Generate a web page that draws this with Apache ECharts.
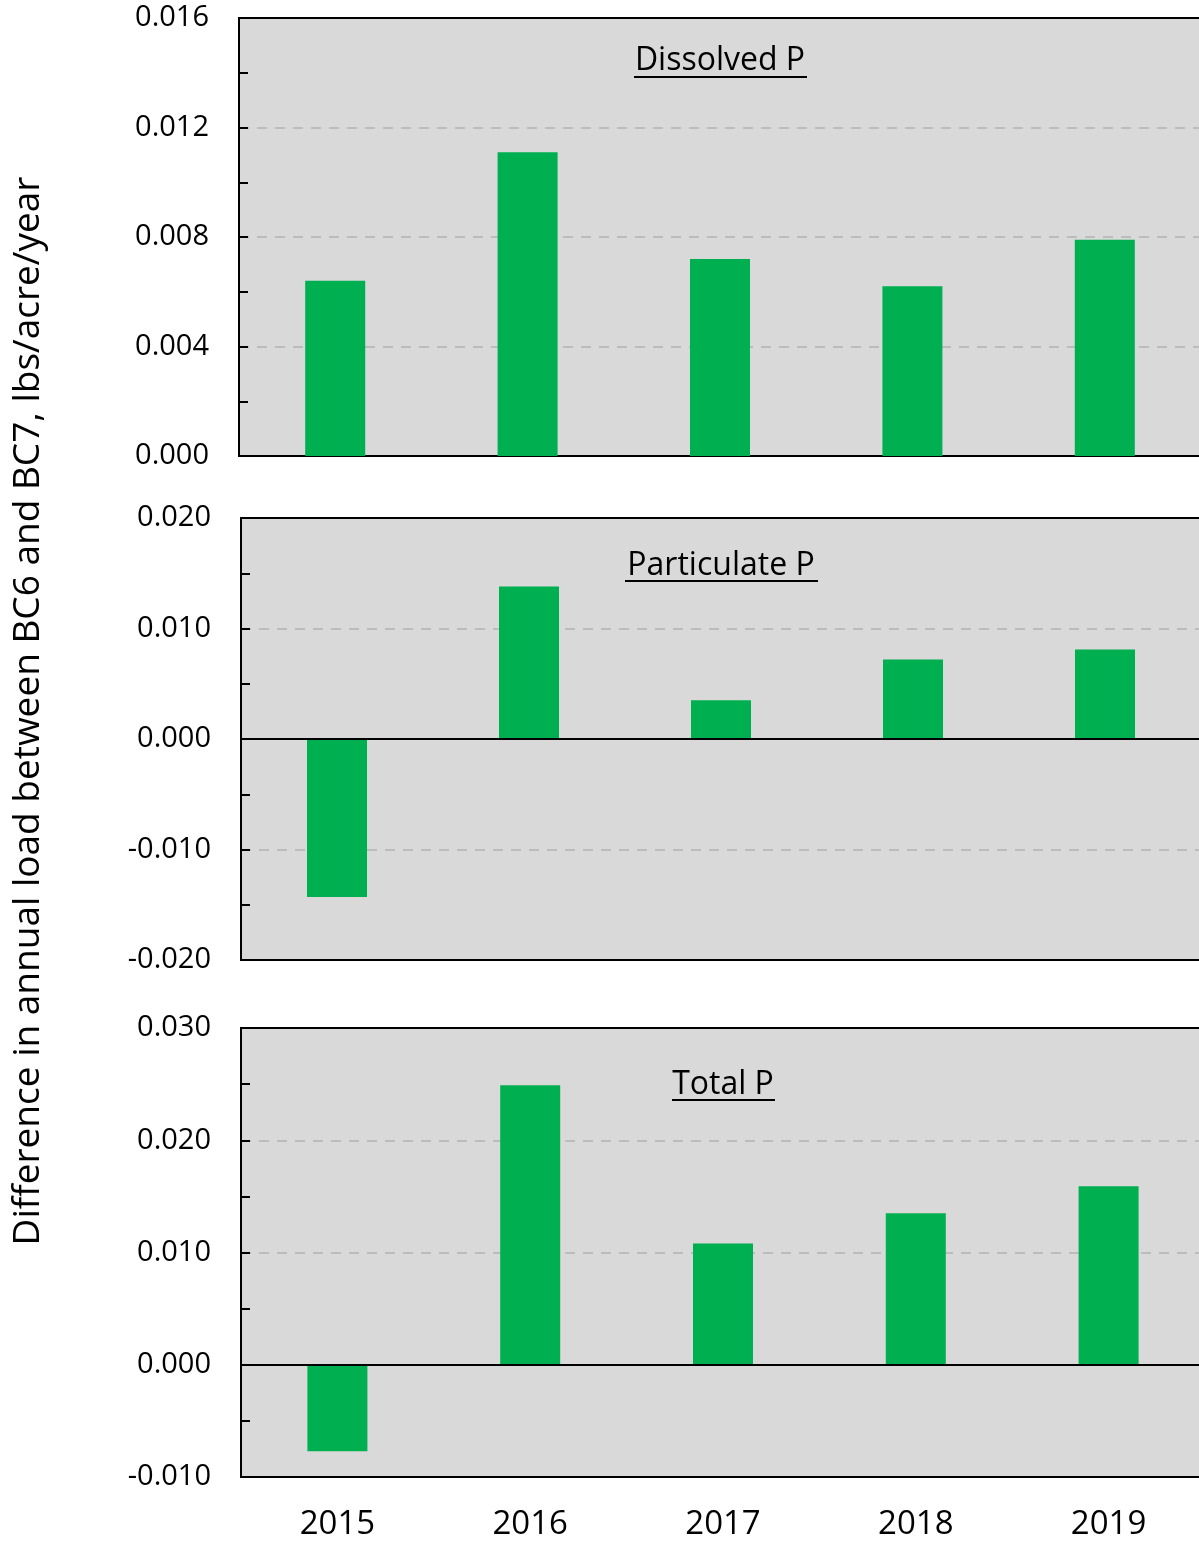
<!DOCTYPE html>
<html>
<head>
<meta charset="utf-8">
<script src="https://cdn.jsdelivr.net/npm/echarts@6/dist/echarts.min.js"></script>
<style>
  html, body { margin: 0; background: #fff; }
  #chart { width: 1199px; height: 1546px; }
</style>
</head>
<body>
<div id="chart"></div>
<script>
// data
const years = ['2015', '2016', '2017', '2018', '2019'];
const dissolvedP = [0.0064, 0.0111, 0.0072, 0.0062, 0.0079];
const particulateP = [-0.0143, 0.0138, 0.0035, 0.0072, 0.0081];
const totalP = [-0.0077, 0.0249, 0.0108, 0.0135, 0.0159];
const panelTitles = ['Dissolved P', 'Particulate P', 'Total P'];
const yMin = [0, -0.02, -0.01];
const yMax = [0.016, 0.02, 0.03];
const yStep = [0.004, 0.01, 0.01];
const yTitle = 'Difference in annual load between BC6 and BC7, lbs/acre/year';

const seriesData = [dissolvedP, particulateP, totalP];

// panel placement (pixels)
const panels = [
  { left: 239, top: 18, height: 438, right: -2, titleX: 720, titleY: 61, ulX1: 634, ulX2: 807, ulY: 77 },
  { left: 241, top: 518, height: 442, right: -2, titleX: 721, titleY: 566, ulX1: 625, ulX2: 818, ulY: 581 },
  { left: 241, top: 1028, height: 449, right: -6, titleX: 723, titleY: 1085, ulX1: 672, ulX2: 775, ulY: 1100 }
];

const font = '"Open Sans", "Noto Sans", sans-serif';
const green = '#00b050';

const chart = echarts.init(document.getElementById('chart'), null, { renderer: 'canvas' });

const grid = panels.map(p => ({
  left: p.left, top: p.top, height: p.height, right: p.right,
  outerBoundsMode: 'none',
  show: true, backgroundColor: '#d9d9d9',
  borderColor: '#000', borderWidth: 2
}));

const xAxis = panels.map((p, i) => ({
  type: 'category', gridIndex: i, data: years,
  axisLine: { show: false, onZero: false },
  axisTick: { show: false },
  axisLabel: {
    show: i === 2, color: '#000', fontSize: 33, fontFamily: font, margin: 31
  }
}));

const yAxis = panels.map((p, i) => ({
  type: 'value', gridIndex: i,
  min: yMin[i], max: yMax[i], interval: yStep[i],
  axisLine: { show: true, lineStyle: { color: '#000', width: 2 } },
  axisTick: { show: true, inside: true, length: 9, lineStyle: { color: '#000', width: 2 } },
  minorTick: { show: true, splitNumber: 2, length: 9, lineStyle: { color: '#000', width: 2 } },
  splitLine: {
    show: true, showMinLine: false, showMaxLine: false,
    lineStyle: { color: '#bcbcbc', width: 2, type: [10, 8] }
  },
  axisLabel: {
    color: '#000', fontSize: 29, fontFamily: font, margin: 30,
    formatter: v => v.toFixed(3)
  }
}));

const series = seriesData.map((d, i) => {
  const s = {
    type: 'bar', xAxisIndex: i, yAxisIndex: i,
    data: d, barWidth: 60,
    itemStyle: { color: green }
  };
  if (yMin[i] < 0) {
    s.markLine = {
      silent: true, symbol: ['none', 'none'],
      label: { show: false },
      lineStyle: { color: '#000', width: 2, type: 'solid' },
      data: [{ yAxis: 0 }]
    };
  }
  return s;
});

const graphic = [];
panels.forEach((p, i) => {
  graphic.push({
    type: 'text', x: p.titleX, y: p.titleY,
    style: {
      text: panelTitles[i], fill: '#000', font: '32px ' + font,
      textAlign: 'center', textVerticalAlign: 'middle'
    }
  });
  graphic.push({
    type: 'line',
    shape: { x1: p.ulX1, y1: p.ulY, x2: p.ulX2, y2: p.ulY },
    style: { stroke: '#000', lineWidth: 2 }
  });
});
graphic.push({
  type: 'text', x: 28, y: 711, rotation: Math.PI / 2,
  style: {
    text: yTitle, fill: '#000', font: '37px ' + font,
    textAlign: 'center', textVerticalAlign: 'middle'
  }
});

chart.setOption({
  animation: false,
  backgroundColor: '#fff',
  grid, xAxis, yAxis, series, graphic
});

window.addEventListener('resize', () => chart.resize());
</script>
</body>
</html>
